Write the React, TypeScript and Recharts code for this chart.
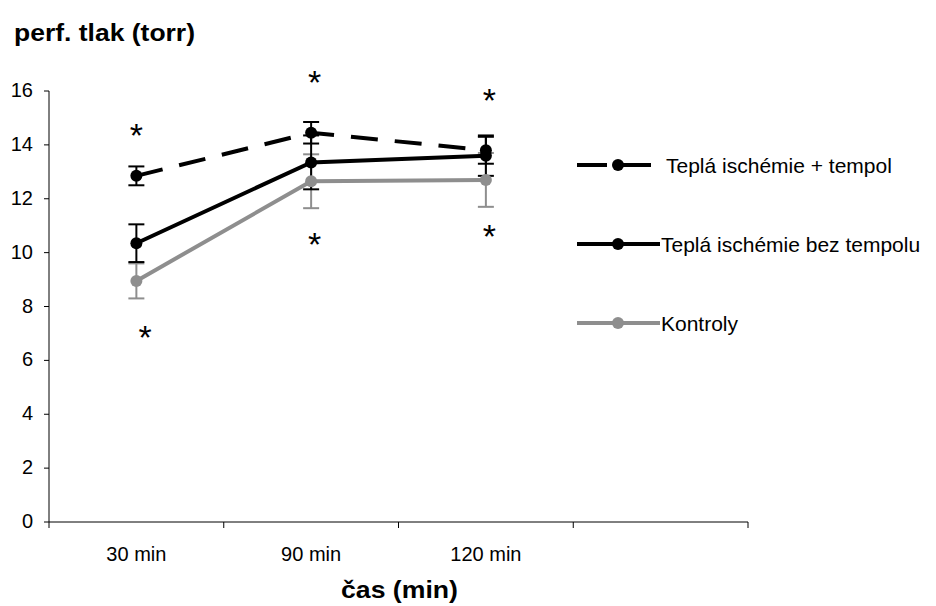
import React from 'react';
import { ComposedChart, Line, XAxis, YAxis, ErrorBar, ReferenceDot, Legend, Label } from 'recharts';

// ---- data ----
const categories = ['30 min', '90 min', '120 min'];
const slotCount = 4; // 3 categories + one empty slot on the x axis
const tempol = [12.85, 14.45, 13.8];
const tempolErr = [0.35, 0.4, 0.5];
const bez = [10.35, 13.35, 13.6];
const bezErr = [0.7, 1.0, 0.75];
const kontroly = [8.95, 12.65, 12.7];
const kontrolyErr = [0.65, 1.0, 1.0];
const yTicks = [0, 2, 4, 6, 8, 10, 12, 14, 16];
const seriesNames = ['Teplá ischémie + tempol', 'Teplá ischémie bez tempolu', 'Kontroly'];
const starX = [0.5, 0.55, 1.52, 1.52, 2.52, 2.52];
const starY = [14.5, 7.0, 16.45, 10.45, 15.8, 10.75];
const yTitle = 'perf. tlak (torr)';
const xTitle = 'čas (min)';

// ---- layout ----
const W = 936;
const H = 606;
const MARGIN = { top: 91, right: 188, bottom: 0, left: 0 };
const Y_AXIS_W = 49;
const X_AXIS_H = 84;
const PLOT_W = W - MARGIN.right - MARGIN.left - Y_AXIS_W;
const CAT_W = PLOT_W / slotCount;
const FONT = "'Liberation Sans', Arial, sans-serif";
const BLACK = '#000000';
const GRAY = '#8e8e8e';

const data = categories.map((c, i) => ({
  x: i + 0.5,
  name: c,
  tempol: tempol[i],
  tempolErr: tempolErr[i],
  bez: bez[i],
  bezErr: bezErr[i],
  kontroly: kontroly[i],
  kontrolyErr: kontrolyErr[i],
}));

const stars = starX.map((x, i) => ({ x, y: starY[i] }));
const xTicks = Array.from({ length: slotCount + 1 }, (_, i) => i);

const XTick = (props: any) => {
  const { x, y, payload } = props;
  const i = payload.value;
  if (i >= categories.length) return null;
  return (
    <text x={x + CAT_W / 2} y={y} dy={31} textAnchor="middle" fontFamily={FONT} fontSize={20} fill={BLACK}>
      {categories[i]}
    </text>
  );
};

const YTick = (props: any) => {
  const { x, y, payload } = props;
  return (
    <text x={x} y={y} dy="0.3em" textAnchor="end" fontFamily={FONT} fontSize={20} fill={BLACK}>
      {payload.value}
    </text>
  );
};

const StarShape = (props: any) => {
  const { cx, cy } = props;
  return (
    <text x={cx} y={cy} dy="0.45em" textAnchor="middle" fontFamily={FONT} fontSize={34} fill={BLACK}>
      *
    </text>
  );
};

const legendItems = [
  { name: seriesNames[0], color: BLACK, dashed: true },
  { name: seriesNames[1], color: BLACK, dashed: false },
  { name: seriesNames[2], color: GRAY, dashed: false },
];

const renderLegend = () => (
  <svg width={368} height={200} style={{ display: 'block', overflow: 'visible' }}>
    {legendItems.map((it, i) => {
      const y = 25 + i * 79;
      return (
        <g key={it.name}>
          {it.dashed ? (
            <line x1={9} y1={y} x2={83} y2={y} stroke={it.color} strokeWidth={4} strokeDasharray="30 14" />
          ) : (
            <line x1={9} y1={y} x2={92} y2={y} stroke={it.color} strokeWidth={4} />
          )}
          <circle cx={50} cy={y} r={6} fill={it.color} />
          <text x={it.dashed ? 98 : 93} y={y} dy="0.36em" fontFamily={FONT} fontSize={21} fill={BLACK}>
            {it.name}
          </text>
        </g>
      );
    })}
  </svg>
);

export default function App() {
  return (
    <div style={{ position: 'absolute', left: 0, top: 0, width: W, height: H, background: '#fff' }}>
      <ComposedChart width={W} height={H} data={data} margin={MARGIN}>
        <XAxis
          dataKey="x"
          type="number"
          domain={[0, slotCount]}
          ticks={xTicks}
          interval={0}
          height={X_AXIS_H}
          axisLine={{ stroke: BLACK, strokeWidth: 1 }}
          tickLine={{ stroke: BLACK, strokeWidth: 1 }}
          tickSize={6}
          tickMargin={2}
          tick={<XTick />}
        >
          <Label
            content={() => (
              <text x={341} y={598} fontFamily={FONT} fontSize={24} fontWeight="bold" fill={BLACK} textLength={117} lengthAdjust="spacingAndGlyphs">
                {xTitle}
              </text>
            )}
          />
        </XAxis>
        <YAxis
          type="number"
          domain={[0, 16]}
          ticks={yTicks}
          interval={0}
          width={Y_AXIS_W}
          axisLine={{ stroke: BLACK, strokeWidth: 1 }}
          tickLine={{ stroke: BLACK, strokeWidth: 1 }}
          tickSize={5}
          tickMargin={11}
          tick={<YTick />}
        >
          <Label
            content={() => (
              <text x={14} y={41} fontFamily={FONT} fontSize={24} fontWeight="bold" fill={BLACK} textLength={181} lengthAdjust="spacingAndGlyphs">
                {yTitle}
              </text>
            )}
          />
        </YAxis>
        <Legend
          layout="vertical"
          align="center"
          verticalAlign="middle"
          wrapperStyle={{ left: 568, top: 140, width: 368, height: 200 }}
          content={renderLegend}
        />
        <Line
          dataKey="kontroly"
          name={seriesNames[2]}
          stroke={GRAY}
          strokeWidth={4}
          dot={{ r: 6, fill: GRAY, stroke: GRAY, strokeWidth: 0 }}
          isAnimationActive={false}
        >
          <ErrorBar dataKey="kontrolyErr" width={8} stroke={GRAY} strokeWidth={2} direction="y" />
        </Line>
        <Line
          dataKey="bez"
          name={seriesNames[1]}
          stroke={BLACK}
          strokeWidth={4}
          dot={{ r: 6, fill: BLACK, stroke: BLACK, strokeWidth: 0 }}
          isAnimationActive={false}
        >
          <ErrorBar dataKey="bezErr" width={8} stroke={BLACK} strokeWidth={2} direction="y" />
        </Line>
        <Line
          dataKey="tempol"
          name={seriesNames[0]}
          stroke={BLACK}
          strokeWidth={4}
          strokeDasharray="27 17"
          dot={{ r: 6, fill: BLACK, stroke: BLACK, strokeWidth: 0, strokeDasharray: '0' }}
          isAnimationActive={false}
        >
          <ErrorBar dataKey="tempolErr" width={8} stroke={BLACK} strokeWidth={2} direction="y" />
        </Line>
        {stars.map((s, i) => (
          <ReferenceDot key={i} x={s.x} y={s.y} ifOverflow="visible" shape={<StarShape />} />
        ))}
      </ComposedChart>
    </div>
  );
}
